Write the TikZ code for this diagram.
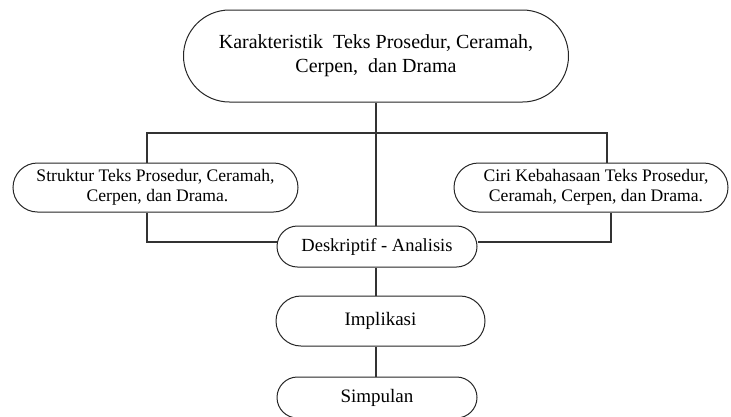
\documentclass[tikz,border=0pt]{standalone}
\usepackage{fontspec}
\setmainfont{Liberation Serif}
\begin{document}
\begin{tikzpicture}[x=1pt,y=-1pt,
  box/.style={draw=black!85, line width=1pt, fill=white, align=center, inner sep=0pt},
  conn/.style={draw=black!80, line width=1.3pt}]
\useasboundingbox (0,0) rectangle (731,416);
\node[box, minimum width=385pt, minimum height=92pt, rounded corners=46pt,
      font=\fontsize{20}{24}\selectfont] (top) at (376,56)
  {Karakteristik\ \ Teks Prosedur, Ceramah,\\Cerpen,\ \ dan Drama};
\node[box, minimum width=285pt, minimum height=49pt, rounded corners=24.5pt,
      font=\fontsize{17.6}{19.5}\selectfont] (left) at (155.5,187.5)
  {Struktur Teks Prosedur, Ceramah,\\\hspace*{4pt}Cerpen, dan Drama.};
\node[box, minimum width=274pt, minimum height=49pt, rounded corners=24.5pt,
      font=\fontsize{17.6}{19.5}\selectfont] (right) at (591,187.5)
  {\hspace*{10pt}Ciri Kebahasaan Teks Prosedur,\\\hspace*{10pt}Ceramah, Cerpen, dan Drama.};
\node[box, minimum width=200pt, minimum height=41pt, rounded corners=20.5pt,
      font=\fontsize{18.5}{22}\selectfont] (desk) at (377,246.5) {Deskriptif - Analisis};
\node[box, minimum width=209pt, minimum height=50pt, rounded corners=25pt,
      font=\fontsize{19}{22}\selectfont] (impl) at (380.5,321) {Implikasi};
\node[box, minimum width=200pt, minimum height=41pt, rounded corners=20.5pt,
      font=\fontsize{19}{22}\selectfont] (simp) at (377,397.5) {Simpulan};
\coordinate (bl) at (147,133);
\coordinate (br) at (607,133);
\coordinate (ll) at (147,242);
\coordinate (lr) at (611,242);
\coordinate (cx) at (376,0);
\draw[conn] (top.south -| cx) -- (desk.north -| cx);
\draw[conn] (bl |- left.north) -- (bl) -- (br) -- (br |- right.north);
\draw[conn] (ll |- left.south) -- (ll) -- (ll -| desk.west);
\draw[conn] (lr |- right.south) -- (lr) -- (lr -| desk.east);
\draw[conn] (desk.south -| cx) -- (impl.north -| cx);
\draw[conn] (impl.south -| cx) -- (simp.north -| cx);
\end{tikzpicture}
\end{document}
